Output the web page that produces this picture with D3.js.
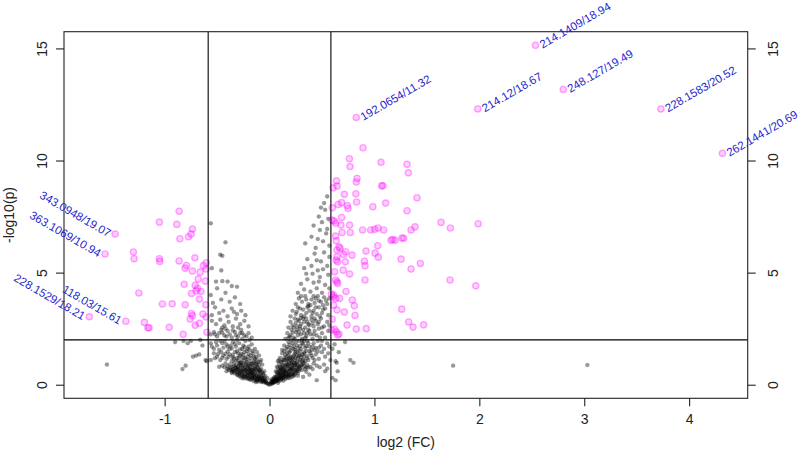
<!DOCTYPE html>
<html>
<head>
<meta charset="utf-8">
<script src="https://d3js.org/d3.v7.min.js"></script>
<style>
  body { margin: 0; background: #fff; }
  text { font-family: "Liberation Sans", Arial, sans-serif; }
</style>
</head>
<body>
<svg id="volcano" width="800" height="452"></svg>
<script>
// gray = not significant, pink = FC > 1.5 and p < 0.01
const grayLeft = [
  [-0.02,0.05],[-0.05,0.1],[-0.08,0.12],[-0.1,0.2],[-0.12,0.18],[-0.15,0.25],[-0.18,0.22],[-0.2,0.3],[-0.22,0.35],[-0.25,0.28],
  [-0.07,0.3],[-0.1,0.4],[-0.13,0.45],[-0.16,0.38],[-0.19,0.42],[-0.23,0.48],[-0.27,0.4],[-0.3,0.45],[-0.04,0.2],[-0.06,0.42],
  [-0.09,0.5],[-0.28,0.5],[-0.33,0.5],[-0.14,0.32],[-0.17,0.5],[-0.03,0.08],[-0.06,0.16],[-0.09,0.26],[-0.11,0.33],[-0.13,0.12],
  [-0.16,0.3],[-0.21,0.44],[-0.24,0.38],[-0.05,0.3],[-0.12,0.26],[-0.18,0.34],[-0.2,0.5],[-0.08,0.38],[-0.26,0.46],[-0.15,0.44],
  [-0.05,0.6],[-0.08,0.7],[-0.1,0.65],[-0.12,0.8],[-0.15,0.6],[-0.18,0.75],[-0.2,0.9],[-0.22,0.62],[-0.25,0.7],[-0.27,0.85],
  [-0.3,0.6],[-0.32,0.78],[-0.35,0.68],[-0.38,0.9],[-0.4,0.72],[-0.42,0.95],[-0.45,0.85],[-0.48,0.8],[-0.13,0.95],[-0.17,0.55],
  [-0.24,0.98],[-0.29,0.95],[-0.34,0.95],[-0.07,0.9],[-0.11,1.0],[-0.2,0.68],[-0.36,0.58],[-0.26,0.55],[-0.31,0.7],[-0.41,0.6],
  [-0.14,0.7],[-0.19,0.62],[-0.23,0.8],[-0.28,0.72],[-0.1,0.85],[-0.16,0.88],[-0.33,0.62],[-0.22,0.92],
  [-0.08,1.1],[-0.1,1.3],[-0.14,1.15],[-0.16,1.4],[-0.19,1.05],[-0.21,1.25],[-0.24,1.45],[-0.26,1.1],[-0.28,1.3],[-0.31,1.2],
  [-0.33,1.45],[-0.36,1.05],[-0.38,1.35],[-0.41,1.15],[-0.44,1.3],[-0.47,1.1],[-0.5,1.25],[-0.53,1.4],[-0.12,1.45],[-0.22,1.5],
  [-0.3,1.4],[-0.4,1.48],[-0.46,1.45],[-0.35,1.22],[-0.18,1.3],[-0.56,1.1],[-0.25,1.2],[-0.13,1.25],
  [-0.14,1.6],[-0.17,1.8],[-0.2,1.7],[-0.23,1.95],[-0.26,1.6],[-0.29,1.85],[-0.32,1.7],[-0.35,1.9],[-0.38,1.6],[-0.41,1.8],
  [-0.44,1.65],[-0.47,1.95],[-0.5,1.75],[-0.53,1.6],[-0.56,1.85],[-0.25,1.75],[-0.31,2.0],[-0.37,1.75],[-0.43,1.95],[-0.19,1.55],
  [-0.48,1.55],
  [-0.17,2.1],[-0.2,2.3],[-0.24,2.2],[-0.27,2.45],[-0.3,2.15],[-0.33,2.35],[-0.36,2.1],[-0.4,2.4],[-0.43,2.2],[-0.46,2.45],
  [-0.5,2.15],[-0.53,2.35],[-0.56,2.25],[-0.28,2.3],[-0.38,2.25],[-0.48,2.3],
  [-0.2,2.6],[-0.24,2.85],[-0.28,2.7],[-0.32,2.95],[-0.35,2.6],[-0.39,2.8],[-0.43,2.65],[-0.47,2.9],[-0.51,2.7],[-0.55,2.85],
  [-0.3,2.55],[-0.45,2.55],
  [-0.23,3.1],[-0.27,3.3],[-0.31,3.15],[-0.36,3.4],[-0.4,3.05],[-0.44,3.3],[-0.48,3.2],[-0.52,3.45],[-0.55,3.1],[-0.34,3.25],
  [-0.28,3.6],[-0.33,3.9],[-0.38,3.7],[-0.42,4.1],[-0.46,3.8],[-0.5,4.3],[-0.54,3.65],[-0.56,4.0],[-0.36,4.4],[-0.31,4.37],
  [-0.4,4.6],[-0.51,4.6],[-0.45,4.62],[-0.55,5.2],[-0.47,5.8],[-0.45,5.75],[-0.42,6.35],[-0.56,7.2],[-0.46,5.1],
  // denser core of the left arm
  [-0.04,0.14],[-0.07,0.22],[-0.11,0.27],[-0.14,0.36],[-0.17,0.4],[-0.21,0.38],[-0.24,0.44],[-0.29,0.52],[-0.31,0.56],[-0.35,0.62],
  [-0.06,0.5],[-0.09,0.58],[-0.12,0.62],[-0.16,0.66],[-0.19,0.7],[-0.23,0.66],[-0.27,0.64],[-0.3,0.76],[-0.34,0.82],[-0.37,0.74],
  [-0.11,0.75],[-0.14,0.82],[-0.17,0.92],[-0.21,0.84],[-0.25,0.9],[-0.28,0.98],[-0.32,0.88],[-0.36,0.8],[-0.39,0.66],[-0.43,0.78],
  [-0.09,1.02],[-0.12,1.12],[-0.15,1.05],[-0.18,1.18],[-0.22,1.12],[-0.25,1.32],[-0.29,1.22],[-0.32,1.08],[-0.35,1.32],[-0.39,1.24],
  [-0.15,1.25],[-0.2,1.38],[-0.23,1.18],[-0.27,1.38],[-0.31,1.5],[-0.34,1.15],[-0.42,1.38],[-0.45,1.2],[-0.49,1.38],[-0.52,1.18],
  [-0.16,1.5],[-0.21,1.6],[-0.24,1.68],[-0.28,1.58],[-0.33,1.82],[-0.36,1.62],[-0.4,1.7],[-0.45,1.85],[-0.51,1.9],[-0.55,1.7],
  [-0.19,2.0],[-0.22,2.15],[-0.26,2.05],[-0.32,2.2],[-0.35,2.42],[-0.41,2.15],[-0.45,2.32],[-0.52,2.25],[-0.26,2.3],[-0.42,2.5],
  // near the vertex
  [-0.01,0.03],[-0.03,0.1],[-0.05,0.18],[-0.07,0.14],[-0.09,0.2],[-0.11,0.14],[-0.13,0.22],[-0.15,0.16],[-0.17,0.28],[-0.19,0.24],
  [-0.21,0.26],[-0.23,0.3],[-0.25,0.36],[-0.27,0.32],[-0.29,0.38],[-0.31,0.44],[-0.06,0.24],[-0.08,0.32],[-0.1,0.36],[-0.12,0.4],
  [-0.14,0.5],[-0.16,0.54],[-0.18,0.58],[-0.21,0.56],[-0.23,0.6],[-0.25,0.62],[-0.27,0.58],[-0.29,0.66],[-0.32,0.68],[-0.34,0.58],
  [-0.07,0.54],[-0.09,0.66],[-0.11,0.56],[-0.13,0.68],[-0.15,0.74],[-0.17,0.66],[-0.19,0.82],[-0.21,0.74],[-0.24,0.74],[-0.26,0.82],
  [-0.28,0.9],[-0.3,0.82],[-0.33,0.74],[-0.37,0.66],[-0.12,0.92],[-0.15,0.98],[-0.18,0.94],[-0.22,1.02],[-0.27,1.0],[-0.3,1.06],
  [-0.04,0.38],[-0.02,0.28],[-0.19,0.5],[-0.36,0.52],[-0.4,0.82]
];

const grayRight = [
  [0.0,0.0],[0.02,0.05],[0.04,0.1],[0.06,0.15],[0.03,0.2],[0.08,0.22],[0.1,0.3],[0.05,0.35],[0.12,0.28],[0.14,0.4],
  [0.07,0.45],[0.16,0.35],[0.18,0.48],[0.11,0.5],[0.2,0.42],[0.09,0.38],[0.22,0.5],[0.13,0.18],[0.01,0.12],[0.15,0.25],
  [0.06,0.28],[0.45,0.2],[0.53,0.6],[0.38,0.45],[0.32,0.35],[0.03,0.06],[0.05,0.12],[0.07,0.18],[0.09,0.24],[0.11,0.36],
  [0.04,0.3],[0.1,0.44],[0.13,0.34],[0.17,0.42],[0.19,0.3],[0.24,0.46],[0.27,0.4],[0.08,0.08],[0.02,0.16],[0.14,0.48],
  [0.06,0.6],[0.08,0.75],[0.1,0.65],[0.12,0.85],[0.14,0.7],[0.16,0.95],[0.18,0.6],[0.2,0.8],[0.22,0.68],[0.24,0.9],
  [0.26,0.75],[0.28,0.62],[0.3,0.85],[0.32,0.95],[0.34,0.7],[0.36,0.88],[0.39,0.8],[0.42,0.95],[0.09,0.92],[0.13,0.55],
  [0.19,0.72],[0.25,0.55],[0.29,1.0],[0.45,0.85],[0.48,0.78],[0.52,0.9],[0.55,0.72],[0.17,0.82],[0.23,0.98],[0.11,0.7],
  [0.15,0.6],[0.21,0.9],[0.27,0.86],[0.31,0.66],[0.07,0.8],[0.35,0.58],[0.41,0.7],
  [0.08,1.05],[0.1,1.2],[0.13,1.1],[0.15,1.35],[0.17,1.15],[0.19,1.45],[0.21,1.05],[0.23,1.3],[0.25,1.2],[0.27,1.45],
  [0.29,1.1],[0.31,1.35],[0.33,1.25],[0.35,1.5],[0.37,1.1],[0.39,1.4],[0.41,1.2],[0.44,1.35],[0.47,1.15],[0.5,1.45],
  [0.53,1.25],[0.56,1.4],[0.12,1.4],[0.2,1.25],[0.26,1.02],[0.34,1.05],[0.46,1.48],[0.58,1.1],[0.18,1.3],[0.28,1.28],
  [0.12,1.55],[0.14,1.75],[0.16,1.6],[0.18,1.9],[0.2,1.65],[0.22,1.85],[0.24,1.55],[0.26,1.75],[0.28,1.95],[0.3,1.6],
  [0.32,1.8],[0.34,1.65],[0.36,1.95],[0.38,1.7],[0.4,1.55],[0.42,1.85],[0.44,1.65],[0.46,1.95],[0.49,1.75],[0.52,1.6],
  [0.55,1.85],[0.57,1.7],[0.21,1.98],[0.31,1.98],[0.41,1.7],[0.5,1.95],
  [0.15,2.05],[0.17,2.3],[0.19,2.15],[0.21,2.45],[0.23,2.1],[0.25,2.35],[0.27,2.2],[0.29,2.5],[0.31,2.05],[0.33,2.3],
  [0.35,2.15],[0.37,2.45],[0.39,2.25],[0.41,2.05],[0.43,2.4],[0.45,2.2],[0.47,2.5],[0.5,2.3],[0.53,2.1],[0.56,2.4],
  [0.26,2.45],[0.36,2.3],[0.48,2.1],
  [0.18,2.55],[0.2,2.8],[0.22,2.65],[0.24,2.95],[0.26,2.6],[0.28,2.85],[0.3,2.7],[0.32,2.95],[0.34,2.55],[0.36,2.8],
  [0.38,2.65],[0.4,2.9],[0.42,2.6],[0.44,2.85],[0.46,2.7],[0.49,2.95],[0.52,2.6],[0.55,2.8],[0.57,2.65],[0.3,2.98],
  [0.41,2.75],
  [0.2,3.05],[0.22,3.3],[0.25,3.15],[0.27,3.45],[0.3,3.1],[0.32,3.35],[0.35,3.2],[0.37,3.5],[0.4,3.05],[0.42,3.3],
  [0.45,3.15],[0.47,3.45],[0.5,3.2],[0.53,3.4],[0.56,3.1],[0.38,3.3],
  [0.25,3.6],[0.28,3.85],[0.31,3.7],[0.34,3.95],[0.37,3.6],[0.4,3.8],[0.43,3.65],[0.46,3.95],[0.49,3.7],[0.52,3.9],
  [0.55,3.6],[0.57,3.85],[0.44,3.85],
  [0.27,4.1],[0.3,4.5],[0.33,4.25],[0.36,4.7],[0.39,4.15],[0.42,4.55],[0.45,4.3],[0.48,4.8],[0.5,4.1],[0.53,4.45],
  [0.56,4.9],[0.57,4.3],[0.41,4.95],[0.47,4.6],[0.35,4.95],
  [0.33,5.2],[0.36,5.6],[0.4,5.3],[0.43,5.85],[0.46,5.1],[0.49,5.5],[0.52,5.9],[0.55,5.3],[0.57,5.7],[0.45,5.55],
  [0.51,5.15],
  [0.34,6.3],[0.4,6.6],[0.44,6.1],[0.48,6.9],[0.51,6.4],[0.54,6.75],[0.57,6.2],[0.46,6.5],[0.55,6.95],
  [0.42,7.1],[0.47,7.5],[0.5,7.25],[0.53,7.8],[0.56,7.4],[0.52,8.1],[0.55,8.4],[0.49,7.9],
  // denser core of the right arm
  [0.03,0.12],[0.05,0.22],[0.07,0.26],[0.09,0.32],[0.11,0.22],[0.13,0.42],[0.16,0.46],[0.18,0.38],[0.21,0.34],[0.23,0.44],
  [0.08,0.52],[0.1,0.58],[0.12,0.66],[0.14,0.62],[0.17,0.68],[0.2,0.62],[0.22,0.76],[0.25,0.66],[0.27,0.52],[0.29,0.7],
  [0.1,0.8],[0.13,0.88],[0.15,0.78],[0.18,0.86],[0.21,0.96],[0.24,0.8],[0.26,0.92],[0.28,0.8],[0.33,0.82],[0.37,0.76],
  [0.11,1.02],[0.14,1.2],[0.16,1.08],[0.19,1.18],[0.22,1.15],[0.24,1.38],[0.26,1.3],[0.3,1.22],[0.32,1.12],[0.36,1.28],
  [0.14,1.5],[0.17,1.42],[0.2,1.52],[0.23,1.6],[0.25,1.45],[0.27,1.62],[0.29,1.5],[0.33,1.45],[0.35,1.72],[0.38,1.5],
  [0.17,1.68],[0.19,1.78],[0.23,1.72],[0.25,1.9],[0.29,1.72],[0.31,1.85],[0.33,1.95],[0.37,1.85],[0.43,1.55],[0.47,1.65],
  [0.18,2.08],[0.2,2.2],[0.22,2.32],[0.24,2.05],[0.28,2.35],[0.3,2.25],[0.32,2.45],[0.34,2.1],[0.38,2.4],[0.42,2.25],
  [0.23,2.55],[0.25,2.75],[0.27,2.9],[0.29,2.6],[0.33,2.8],[0.35,2.95],[0.37,2.7],[0.43,2.95],[0.47,2.8],[0.5,2.55],
  [0.26,3.25],[0.29,3.4],[0.33,3.05],[0.36,3.45],[0.41,3.2],[0.44,3.45],[0.48,3.05],[0.51,3.35],
  [0.3,3.95],[0.35,3.8],[0.39,3.55],[0.42,3.95],[0.47,3.75],[0.51,3.55],[0.54,3.75],
  // near the vertex
  [0.01,0.04],[0.03,0.1],[0.05,0.17],[0.07,0.22],[0.09,0.16],[0.11,0.28],[0.13,0.3],[0.15,0.38],[0.17,0.3],[0.19,0.44],
  [0.21,0.48],[0.23,0.38],[0.02,0.24],[0.04,0.24],[0.06,0.34],[0.08,0.4],[0.1,0.5],[0.12,0.46],[0.14,0.56],[0.16,0.58],
  [0.18,0.54],[0.2,0.68],[0.22,0.58],[0.24,0.62],[0.26,0.6],[0.07,0.56],[0.09,0.62],[0.11,0.76],[0.13,0.72],[0.15,0.86],
  [0.17,0.9],[0.19,0.96],[0.21,0.72],[0.23,0.86],[0.25,0.96],[0.27,0.7],[0.29,0.8],[0.31,0.88],[0.33,0.98],[0.35,0.78],
  [0.09,1.1],[0.12,1.02],[0.14,1.1],[0.16,1.24],[0.18,1.06],[0.2,1.12],[0.22,1.22],[0.24,1.1],[0.27,1.16],[0.29,1.32],
  [0.31,1.06],[0.33,1.38],[0.36,1.18],[0.4,1.3],[0.43,1.1]
];

// non-significant points outside the fold-change lines
const grayOutside = [
  [-0.9,1.9],[-0.82,1.95],[-0.75,1.95],[-0.66,2.0],[-0.64,1.75],[-0.67,1.35],[-0.7,1.3],[-0.73,1.25],[-0.8,0.85],
  [-0.83,0.7],[-1.55,0.9],[-0.61,1.1],[-0.6,1.05],[-0.78,1.85],
  [0.6,0.3],[0.63,1.05],[0.66,1.45],[0.62,1.8],[0.64,0.98],[0.77,1.1],[0.8,0.98],[0.65,0.6],[0.6,1.6],[0.72,1.9],
  [0.63,0.2],[1.75,0.85],[3.03,0.88]
];

const pinkLeft = [
  [-0.862,7.74],[-1.05,7.25],[-0.884,7.15],[-0.735,6.94],[-0.747,6.72],[-0.773,6.6],[-0.855,6.51],[-1.298,5.92],
  [-1.291,5.62],[-1.05,5.62],[-1.046,5.5],[-0.862,5.52],[-0.712,5.66],[-0.792,5.32],[-0.804,5.2],[-0.604,5.44],
  [-0.63,5.31],[-0.735,5.07],[-0.661,5.02],[-0.604,5.16],[-0.68,4.71],[-0.611,4.62],[-0.814,4.48],[-0.709,4.43],
  [-0.687,4.3],[-0.699,4.19],[-0.655,4.16],[-0.744,4.07],[-1.246,4.09],[-0.668,3.82],[-1.021,3.6],[-0.928,3.61],
  [-0.804,3.57],[-0.607,3.57],[-0.744,3.18],[-0.735,3.08],[-0.757,2.93],[-0.635,3.15],[-0.604,3.02],[-1.193,2.78],
  [-1.16,2.54],[-1.148,2.54],[-0.957,2.56],[-0.709,2.65],[-0.668,2.74],[-0.823,2.25],[-0.597,2.34]
];

const pinkRight = [
  [0.891,10.57],[0.761,10.08],[0.767,9.73],[1.063,9.92],[1.311,9.83],[1.323,9.45],[0.638,9.09],[0.644,8.86],
  [0.605,8.78],[0.834,9.2],[0.827,9.04],[1.069,8.87],[1.08,8.87],[0.713,8.49],[0.823,8.52],[0.83,8.15],
  [0.653,8.04],[0.687,8.12],[0.741,7.99],[0.748,7.86],[1.107,8.1],[0.985,7.94],[0.598,7.89],[0.687,7.46],
  [1.311,7.76],[1.406,8.34],[0.617,7.3],[0.63,7.2],[0.681,7.12],[0.763,7.12],[0.691,6.79],[0.77,6.79],
  [0.887,6.9],[0.964,6.9],[1.002,6.93],[1.034,6.99],[1.088,6.9],[1.174,6.48],[1.263,6.54],[0.63,6.63],
  [1.158,6.44],[1.197,6.44],[1.279,6.53],[0.662,6.15],[0.672,6.08],[0.643,6.01],[0.725,5.93],[0.706,5.81],
  [0.786,5.78],[1.031,6.2],[1.006,5.87],[1.037,5.69],[0.636,5.56],[0.649,5.48],[0.722,5.48],[0.904,5.51],
  [0.91,5.31],[1.254,5.6],[0.763,4.94],[0.63,4.67],[0.643,4.59],[0.91,4.67],[0.729,4.16],[0.611,4.0],
  [0.63,3.85],[0.668,3.85],[0.808,3.52],[0.643,3.33],[1.26,3.37],[0.815,3.09],[0.598,2.92],[0.739,2.66],
  [0.827,2.48],[0.923,2.5],[0.592,2.44],[0.62,2.47],[0.636,2.36],[0.662,2.26],[1.326,2.8],[1.635,7.24],
  [1.724,6.99],[1.989,7.18],[1.387,7.04],[1.349,6.9],[1.438,5.41],[1.349,5.16],[1.721,4.67],[1.966,4.41],
  [1.368,2.57],[1.469,2.67],[0.595,7.34],[0.636,6.42],[0.643,5.71],[0.62,5.04],[0.649,4.52],[0.59,4.04],
  [0.605,3.92],[0.611,3.55],[0.649,2.22],[0.92,5.96],[0.703,5.11],[0.789,3.78],[0.713,3.24]
];

// labelled features (m/z / retention time)
const labelNames = ["192.0654/11.32","214.1409/18.94","214.12/18.67","248.127/19.49","228.1583/20.52",
  "262.1441/20.69","343.0948/19.07","363.1069/10.94","228.1529/18.21","118.03/15.61"];
const labelFC = [0.827, 2.535, 1.985, 2.8, 3.731, 4.317, -1.472, -1.568, -1.718, -1.37];
const labelP  = [11.92, 15.14, 12.3, 13.17, 12.3, 10.32, 6.72, 5.83, 3.03, 2.83];

const xTicks = [-1, 0, 1, 2, 3, 4];
const yTicks = [0, 5, 10, 15];
const fcLine = Math.log2(1.5);
const pLine = 2;

const svg = d3.select('#volcano');
const plotL = 64, plotR = 747.7, plotT = 31.7, plotB = 398.3;

const labelled = labelNames.map((name, i) => ({ name, x: labelFC[i], y: labelP[i] }));
const pinkAll = pinkLeft.concat(pinkRight).map(d => ({ x: d[0], y: d[1] })).concat(labelled);
const grayAll = grayLeft.concat(grayRight, grayOutside).map(d => ({ x: d[0], y: d[1] }));
const everything = pinkAll.concat(grayAll);

// R style 4% padding around the data
const pad = ([a, b]) => [a - (b - a) * 0.04, b + (b - a) * 0.04];
const x = d3.scaleLinear().domain(pad(d3.extent(everything, d => d.x))).range([plotL, plotR]);
const y = d3.scaleLinear().domain(pad(d3.extent(everything, d => d.y))).range([plotB, plotT]);

// points
svg.append('g').selectAll('circle').data(grayAll).enter().append('circle')
  .attr('cx', d => x(d.x)).attr('cy', d => y(d.y)).attr('r', 2.1)
  .style('fill', '#000').style('fill-opacity', 0.4)
  .style('stroke', '#000').style('stroke-opacity', 0.1).style('stroke-width', 0.6);

svg.append('g').selectAll('circle').data(pinkAll).enter().append('circle')
  .attr('cx', d => x(d.x)).attr('cy', d => y(d.y)).attr('r', 3.1)
  .style('fill', '#ff00ff').style('fill-opacity', 0.18)
  .style('stroke', '#ff00ff').style('stroke-opacity', 0.33).style('stroke-width', 1.4);

// threshold lines
const lines = svg.append('g').style('stroke', '#000').style('stroke-width', 1.1);
[-fcLine, fcLine].forEach(v => lines.append('line')
  .attr('x1', x(v)).attr('x2', x(v)).attr('y1', plotT).attr('y2', plotB));
lines.append('line').attr('x1', plotL).attr('x2', plotR).attr('y1', y(pLine)).attr('y2', y(pLine));

// frame
svg.append('rect').attr('x', plotL).attr('y', plotT).attr('width', plotR - plotL).attr('height', plotB - plotT)
  .style('fill', 'none').style('stroke', '#222').style('stroke-width', 1.1);

// axes (plain hyphen for negatives, like R)
const fmt = d => String(d);
const xAxis = svg.append('g').attr('transform', `translate(0,${plotB})`)
  .call(d3.axisBottom(x).tickValues(xTicks).tickSize(8).tickPadding(8).tickFormat(fmt));
const yAxisL = svg.append('g').attr('transform', `translate(${plotL},0)`)
  .call(d3.axisLeft(y).tickValues(yTicks).tickSize(8).tickFormat(fmt));
const yAxisR = svg.append('g').attr('transform', `translate(${plotR},0)`)
  .call(d3.axisRight(y).tickValues(yTicks).tickSize(8).tickFormat(fmt));

[xAxis, yAxisL, yAxisR].forEach(g => {
  g.select('.domain').remove();
  g.selectAll('.tick line').style('stroke', '#222').style('stroke-width', 1.1);
  g.selectAll('.tick text').style('font-size', '14px').style('fill', '#222');
});
xAxis.selectAll('.tick text').attr('dy', '0.71em');
yAxisL.selectAll('.tick text').attr('x', 0).attr('dy', 0)
  .attr('text-anchor', 'middle').attr('transform', 'translate(-17,0) rotate(-90)');
yAxisR.selectAll('.tick text').attr('x', 0).attr('dy', 0)
  .attr('text-anchor', 'middle').attr('transform', 'translate(30,0) rotate(-90)');

// axis titles
svg.append('text').attr('x', (plotL + plotR) / 2).attr('y', 447).attr('text-anchor', 'middle')
  .style('font-size', '14px').style('fill', '#222').text('log2 (FC)');
svg.append('text').attr('transform', `translate(14,${(plotT + plotB) / 2}) rotate(-90)`)
  .attr('text-anchor', 'middle').style('font-size', '14px').style('fill', '#222').text('-log10(p)');

// feature labels
svg.append('g').selectAll('text').data(labelled).enter().append('text')
  .attr('transform', d => d.x > 0
    ? `translate(${x(d.x) + 5},${y(d.y)}) rotate(-30)`
    : `translate(${x(d.x) - 5},${y(d.y)}) rotate(30)`)
  .attr('text-anchor', d => d.x > 0 ? 'start' : 'end')
  .attr('dy', '0.35em')
  .style('font-size', '11.5px').style('fill', '#2424cc')
  .text(d => d.name);
</script>
</body>
</html>
